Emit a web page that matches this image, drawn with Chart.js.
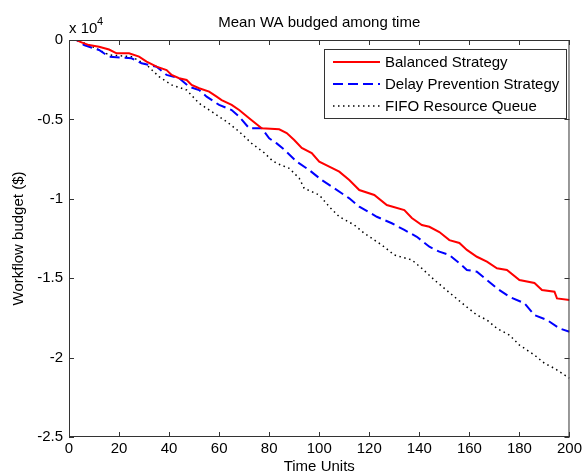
<!DOCTYPE html>
<html>
<head>
<meta charset="utf-8">
<script src="https://cdn.jsdelivr.net/npm/chart.js@4.4.1/dist/chart.umd.min.js"></script>
<style>
  body { margin: 0; background: #fff; }
</style>
</head>
<body>
<canvas id="myChart" width="585" height="475"></canvas>
<script>
// values (y in $)
const balancedX = [0, 3, 5, 8, 12, 16, 19, 24, 28, 31, 35, 39, 41, 44, 47, 49, 52, 56, 59, 61, 65, 68, 72, 77, 84, 87, 90, 93, 97, 100, 104, 108, 112, 116, 122, 127, 134, 137, 141, 144, 148, 152, 156, 159, 163, 167, 171, 175, 180, 186, 189, 194, 195, 200];
const balancedY = [0, 0, -150, -320, -420, -600, -840, -840, -1050, -1365, -1680, -1890, -2200, -2410, -2520, -2830, -3040, -3250, -3570, -3780, -4090, -4410, -4930, -5560, -5620, -5860, -6300, -6800, -7120, -7660, -7980, -8290, -8820, -9450, -9760, -10390, -10710, -11210, -11650, -11760, -12090, -12600, -12780, -13220, -13650, -13960, -14380, -14480, -15110, -15300, -15740, -15850, -16270, -16370];

const delayX = [0, 3, 6, 12, 16, 25, 29, 35, 39, 44, 48, 52, 55, 60, 65, 68, 72, 77, 80, 83, 86, 91, 96, 101, 106, 112, 116, 123, 129, 134, 139, 144, 148, 152, 156, 159, 163, 167, 171, 176, 182, 186, 191, 196, 200];
const delayY = [0, 0, -315, -630, -1050, -1150, -1470, -1680, -2200, -2410, -2940, -3150, -3570, -4090, -4410, -4830, -5560, -5560, -6190, -6510, -6900, -7660, -8190, -8820, -9340, -9970, -10500, -11130, -11540, -11960, -12390, -13020, -13330, -13540, -14060, -14480, -14590, -15110, -15640, -16170, -16580, -17320, -17630, -18160, -18370];

const fifoX = [0, 3, 8, 16, 25, 31, 36, 41, 47, 52, 57, 63, 68, 73, 78, 81, 83, 88, 92, 94, 100, 104, 108, 114, 118, 125, 130, 137, 141, 146, 150, 154, 158, 163, 167, 171, 176, 180, 186, 190, 194, 200];
const fifoY = [0, 0, -315, -940, -1050, -1570, -2310, -2830, -3150, -3990, -4510, -5140, -5770, -6510, -7100, -7560, -7770, -8080, -8710, -9340, -9760, -10500, -11130, -11650, -12170, -12910, -13540, -13850, -14380, -15110, -15640, -16170, -16690, -17320, -17630, -18160, -18580, -19210, -19840, -20360, -20680, -21300];

const seriesNames = ['Balanced Strategy', 'Delay Prevention Strategy', 'FIFO Resource Queue'];
const xTicks = [0, 20, 40, 60, 80, 100, 120, 140, 160, 180, 200];
const yTicks = [0, -5000, -10000, -15000, -20000, -25000];

const FONT = '"Liberation Sans", Arial, sans-serif';
const AXIS_COLOR = '#333';

function toPoints(xs, ys) {
    return xs.map((x, i) => ({ x: x, y: ys[i] }));
}

// matlab style box, inward ticks, legend and labels
const matlabAxes = {
    id: 'matlabAxes',
    afterDatasetsDraw(chart) {
        const { ctx, chartArea: a, scales } = chart;
        const xs = scales.x, ys = scales.y;
        ctx.save();
        ctx.strokeStyle = AXIS_COLOR;
        ctx.lineWidth = 1;
        ctx.beginPath();
        ctx.rect(a.left + 0.5, a.top + 0.5, a.right - a.left - 1, a.bottom - a.top - 1);
        xTicks.forEach(v => {
            const px = Math.round(xs.getPixelForValue(v)) + 0.5;
            ctx.moveTo(px, a.bottom); ctx.lineTo(px, a.bottom - 5);
            ctx.moveTo(px, a.top); ctx.lineTo(px, a.top + 5);
        });
        yTicks.forEach(v => {
            const py = Math.round(ys.getPixelForValue(v)) + 0.5;
            ctx.moveTo(a.left, py); ctx.lineTo(a.left + 5, py);
            ctx.moveTo(a.right, py); ctx.lineTo(a.right - 5, py);
        });
        ctx.stroke();

        // legend
        const lx = 324, ly = 49, lw = 242, lh = 69;
        ctx.fillStyle = '#fff';
        ctx.fillRect(lx, ly, lw, lh);
        ctx.strokeStyle = AXIS_COLOR;
        ctx.strokeRect(lx + 0.5, ly + 0.5, lw, lh);
        const rows = [62, 84, 106];
        chart.data.datasets.forEach((ds, i) => {
            ctx.save();
            ctx.strokeStyle = ds.borderColor;
            ctx.lineWidth = ds.borderWidth;
            ctx.setLineDash(ds.borderDash || []);
            ctx.beginPath();
            ctx.moveTo(333, rows[i]);
            ctx.lineTo(380, rows[i]);
            ctx.stroke();
            ctx.restore();
            ctx.fillStyle = '#000';
            ctx.font = '15px ' + FONT;
            ctx.textAlign = 'left';
            ctx.textBaseline = 'middle';
            ctx.fillText(ds.label, 385, rows[i] + 1);
        });

        // title, exponent and axis titles
        ctx.fillStyle = '#000';
        ctx.font = '15px ' + FONT;
        ctx.textAlign = 'center';
        ctx.textBaseline = 'middle';
        ctx.fillText('Mean WA budged among time', (a.left + a.right) / 2, 23);
        ctx.fillText('Time Units', (a.left + a.right) / 2, 467);
        ctx.textAlign = 'left';
        ctx.textBaseline = 'alphabetic';
        ctx.fillText('x 10', 69, 33);
        ctx.font = '11px ' + FONT;
        ctx.fillText('4', 97, 25);
        ctx.save();
        ctx.translate(19, (a.top + a.bottom) / 2);
        ctx.rotate(-Math.PI / 2);
        ctx.font = '15px ' + FONT;
        ctx.textAlign = 'center';
        ctx.textBaseline = 'middle';
        ctx.fillText('Workflow budget ($)', 0, 0);
        ctx.restore();
        ctx.restore();
    }
};

document.addEventListener('DOMContentLoaded', function () {
    const ctx = document.getElementById('myChart').getContext('2d');

    new Chart(ctx, {
        type: 'scatter',
        data: {
            datasets: [{
                label: seriesNames[0],
                data: toPoints(balancedX, balancedY),
                borderColor: '#ff0000',
                borderWidth: 2,
                showLine: true,
                pointRadius: 0
            }, {
                label: seriesNames[1],
                data: toPoints(delayX, delayY),
                borderColor: '#0000ff',
                borderWidth: 2,
                borderDash: [10, 5],
                showLine: true,
                pointRadius: 0
            }, {
                label: seriesNames[2],
                data: toPoints(fifoX, fifoY),
                borderColor: '#000000',
                borderWidth: 1.5,
                borderDash: [1.5, 3.5],
                showLine: true,
                pointRadius: 0
            }]
        },
        options: {
            responsive: false,
            animation: false,
            layout: { padding: { left: 0, right: 12, top: 40, bottom: 0 } },
            plugins: {
                legend: { display: false },
                tooltip: { enabled: false }
            },
            scales: {
                x: {
                    type: 'linear',
                    min: 0,
                    max: 200,
                    grid: { display: false, drawTicks: false },
                    border: { display: false },
                    afterBuildTicks: s => { s.ticks = xTicks.map(v => ({ value: v })); },
                    afterFit: s => { s.height = 38; },
                    ticks: {
                        color: '#000',
                        padding: 3,
                        maxRotation: 0,
                        font: { family: FONT, size: 15 }
                    }
                },
                y: {
                    min: -25000,
                    max: 0,
                    grid: { display: false, drawTicks: false },
                    border: { display: false },
                    afterBuildTicks: s => { s.ticks = yTicks.map(v => ({ value: v })); },
                    afterFit: s => { s.width = 69; },
                    ticks: {
                        color: '#000',
                        padding: 6,
                        font: { family: FONT, size: 15 },
                        callback: v => String(v / 10000)
                    }
                }
            }
        },
        plugins: [matlabAxes]
    });
});
</script>
</body>
</html>
